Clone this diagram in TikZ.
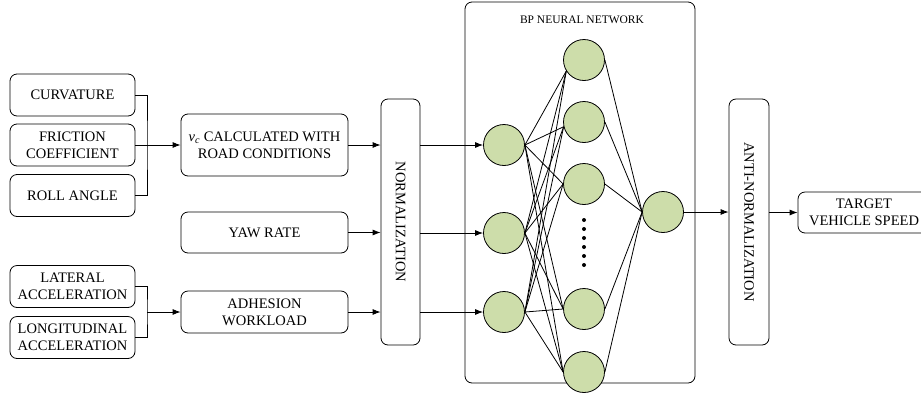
\documentclass[tikz,border=0pt]{standalone}
\usepackage{fontspec}
\setmainfont{Liberation Serif}
\usetikzlibrary{arrows.meta,positioning,backgrounds}
\definecolor{nngreen}{RGB}{205,221,170}

\begin{document}
\begin{tikzpicture}[x=1pt,y=-1pt,font=\fontsize{14.5}{16.8}\selectfont,line width=0.8pt,
  box/.style={draw,rounded corners=7pt,align=center,inner sep=0pt},
  inbox/.style={box,minimum width=125pt,minimum height=42pt},
  midbox/.style={box,minimum width=167pt,minimum height=42pt},
  tallbox/.style={box,minimum width=40pt,minimum height=246pt},
  neuron/.style={circle,draw,fill=nngreen,minimum size=41pt,inner sep=0pt},
  link/.style={line width=0.8pt},
  arr/.style={-{Latex[length=8pt,width=6pt]}}]

\useasboundingbox (0,0) rectangle (921,416);

% inputs
\node[inbox] (curv) at (72.5,95) {CURVATURE};
\node[inbox] (fric) at (72.5,145) {FRICTION\\COEFFICIENT};
\node[inbox] (roll) at (72.5,195.5) {ROLL ANGLE};
\node[inbox] (lat) at (72.5,286.5) {LATERAL\\ACCELERATION};
\node[inbox] (lon) at (72.5,337.5) {LONGITUDINAL\\ACCELERATION};

\node[midbox,minimum height=62pt] (vc) at (264.5,145) {{\itshape v}\textsubscript{\itshape c} CALCULATED WITH\\ROAD CONDITIONS};
\node[midbox,minimum height=41pt] (yaw) at (264.5,232.5) {YAW RATE};
\node[midbox] (adh) at (264.5,312) {ADHESION\\WORKLOAD};

\node[tallbox,minimum width=39pt] (norm) at (400.5,222) {\rotatebox{-90}{NORMALIZATION}};

% network
\node[box,minimum width=230pt,minimum height=381pt] (nn) at (580,192.5) {};
\node[font=\fontsize{11.5}{13}\selectfont] (title) at (582,20) {BP NEURAL NETWORK};

\node[neuron] (i1) at (504,145) {};
\node[neuron] (i2) at (504,233) {};
\node[neuron] (i3) at (504,312) {};
\foreach \n/\y in {1/60,2/122,3/184,4/309,5/372}
  \node[neuron] (h\n) at (584,\y) {};
\node[neuron] (o) at (663,212) {};
\foreach \y in {220,229,...,265}
  \fill (584,\y) circle (2pt);

\begin{scope}[on background layer]
\foreach \h/\a in {1/212,2/193,3/180,4/180,5/180} {
  \foreach \i in {1,2,3}
    \draw[link] (i\i.east) -- (h\h.\a);
  \draw[link] (h\h.east) -- (o.west);
}
\end{scope}

\node[tallbox] (anti) at (749,222) {\rotatebox{-90}{ANTI-NORMALIZATION}};
\node[box,minimum width=140pt,minimum height=41pt] (target) at (868,212.5) {};
\node[align=center] (tlabel) at (864,212.5) {TARGET\\VEHICLE SPEED};

% connectors
\coordinate (j1) at (147,145);
\coordinate (j2) at (147,312);
\draw (curv.east) -| (j1) |- (roll.east);
\draw[arr] (fric) -- (vc);
\draw (lat.east) -| (j2) |- (lon.east);
\draw[arr] (j2) -- (adh);

\draw[arr] (vc) -- (vc -| norm.west);
\draw[arr] (yaw) -- (yaw -| norm.west);
\draw[arr] (adh) -- (adh -| norm.west);
\foreach \i in {1,2,3}
  \draw[arr] (norm.east |- i\i) -- (i\i);

\draw[arr] (o) -- (o -| anti.west);
\draw[arr] (anti.east |- target) -- (target);

\end{tikzpicture}
\end{document}
